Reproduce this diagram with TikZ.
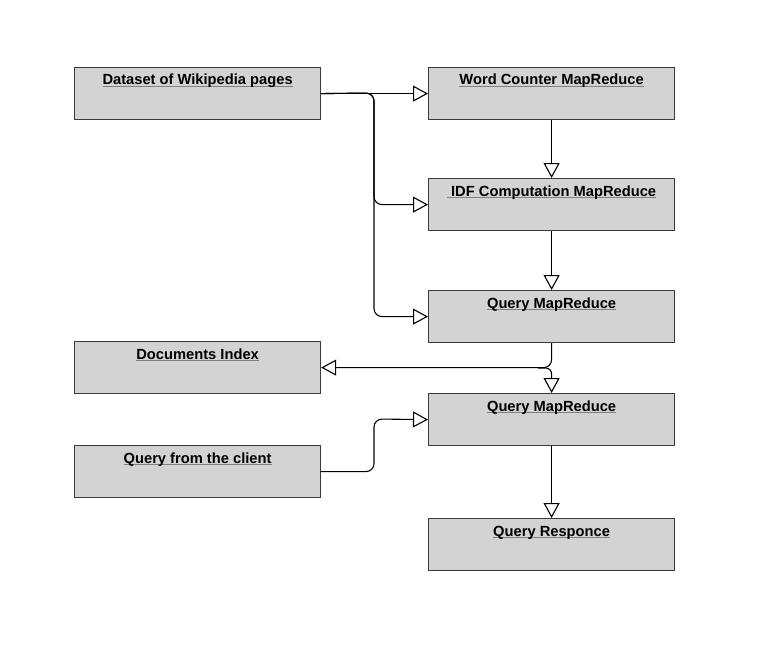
\documentclass[tikz,border=0pt]{standalone}
\usepackage{fontspec}
\setmainfont{Liberation Sans}
\usetikzlibrary{arrows.meta}
\definecolor{boxfill}{HTML}{D3D3D3}
\definecolor{boxline}{HTML}{3A3A3A}
\newcommand\ulin[1]{\setbox0\hbox{#1}\rlap{\color{gray}\rule[-2.4pt]{\wd0}{1.1pt}}\box0}
\begin{document}
\begin{tikzpicture}[x=1pt,y=-1pt,
  box/.style={draw=boxline, fill=boxfill, line width=1.2pt, minimum width=246pt, minimum height=52pt, inner sep=0pt, anchor=north west},
  lbl/.style={anchor=base, inner sep=0pt, font=\fontsize{14.7}{17}\selectfont\bfseries},
  conn/.style={line width=1.1pt, rounded corners=8pt, -{Triangle[open, length=15pt, width=16pt, fill=white]}}]
\useasboundingbox (0,0) rectangle (783,647);
\node[box] (ds) at (74,67) {};
\node[box] (wc) at (428,67) {};
\node[box] (idf) at (428,178) {};
\node[box] (q1) at (428,290) {};
\node[box] (di) at (74,341) {};
\node[box] (q2) at (428,393) {};
\node[box] (qc) at (74,445) {};
\node[box] (qr) at (428,518) {};
\node[lbl] (tds) at ([yshift=-18pt]ds.north) {\ulin{Dataset of Wikipedia pages}};
\node[lbl] (twc) at ([yshift=-18pt]wc.north) {\ulin{Word Counter MapReduce}};
\node[lbl] (tidf) at ([yshift=-18pt]idf.north) {\ulin{\ IDF Computation MapReduce}};
\node[lbl] (tq1) at ([yshift=-18pt]q1.north) {\ulin{Query MapReduce}};
\node[lbl] (tdi) at ([yshift=-18pt]di.north) {\ulin{Documents Index}};
\node[lbl] (tq2) at ([yshift=-18pt]q2.north) {\ulin{Query MapReduce}};
\node[lbl] (tqc) at ([yshift=-18pt]qc.north) {\ulin{Query from the client}};
\node[lbl] (tqr) at ([yshift=-18pt]qr.north) {\ulin{Query Responce}};
\coordinate (fork) at (374,93);
\coordinate (jn) at (538,368);
\draw[conn] (ds.east) -- (wc.west);
\draw[conn] (ds.east) -- (fork) |- (idf.west);
\draw[conn] (ds.east) -- (fork) |- (q1.west);
\draw[conn] (wc.south) -- (idf.north);
\draw[conn] (idf.south) -- (q1.north);
\draw[conn] (q1.south) |- (di.east);
\draw[conn, rounded corners=6pt] (jn) -| (q2.north);
\draw[conn] (qc.east) -| (374,419) -- (q2.west);
\draw[conn] (q2.south) -- (qr.north);
\end{tikzpicture}
\end{document}
